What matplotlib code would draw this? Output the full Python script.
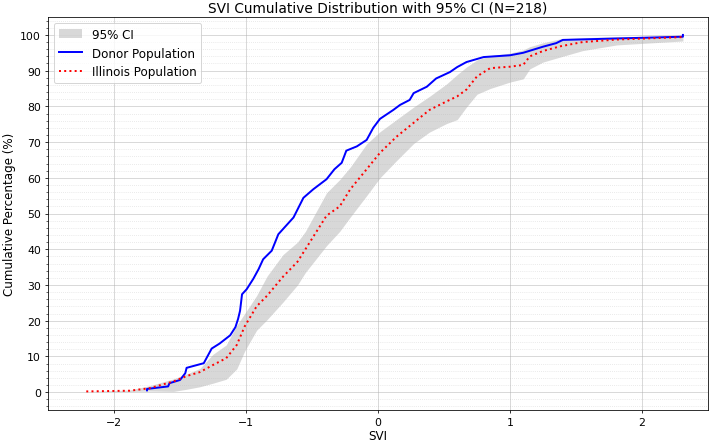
import matplotlib
matplotlib.use("Agg")
import matplotlib.pyplot as plt
from matplotlib.ticker import AutoMinorLocator

# Donor population cumulative curve
donor_svi = [-1.75, -1.75, -1.59, -1.58, -1.50, -1.46, -1.45, -1.32, -1.26, -1.20,
             -1.12, -1.08, -1.06, -1.045, -1.03, -0.995, -0.945, -0.905, -0.87, -0.805,
             -0.755, -0.64, -0.565, -0.49, -0.39, -0.33, -0.275, -0.24, -0.16, -0.086,
             -0.036, 0.015, 0.116, 0.167, 0.24, 0.27, 0.37, 0.44, 0.545, 0.60,
             0.67, 0.80, 1.00, 1.10, 1.25, 1.35, 1.40, 2.31, 2.31]
donor_pct = [0.5, 0.9, 1.6, 2.5, 3.4, 5.3, 6.8, 8.1, 12.2, 13.6,
             15.9, 18.2, 20.5, 22.8, 27.4, 28.8, 31.7, 34.4, 37.2, 39.6,
             44.2, 48.9, 54.4, 56.8, 59.6, 62.4, 64.2, 67.6, 68.8, 70.6,
             74.0, 76.5, 79.0, 80.4, 81.8, 83.7, 85.5, 87.8, 89.6, 91.0,
             92.4, 93.8, 94.3, 95.0, 96.7, 97.7, 98.6, 99.5, 100.0]

# Illinois population cumulative curve with 95% CI
il_svi = [-2.21, -1.88, -1.73, -1.55, -1.45, -1.35, -1.25, -1.15, -1.07, -1.01,
          -0.92, -0.84, -0.72, -0.61, -0.55, -0.39, -0.29, -0.21, -0.086, 0.015,
          0.14, 0.27, 0.39, 0.52, 0.60, 0.67, 0.75, 0.85, 1.00, 1.10,
          1.15, 1.25, 1.38, 1.55, 1.81, 2.31]
il_pct = [0.2, 0.4, 1.1, 3.0, 4.5, 5.6, 7.6, 9.5, 13.2, 18.4,
          24.0, 27.0, 32.3, 36.5, 40.0, 49.4, 52.0, 56.8, 62.4, 67.0,
          71.5, 75.4, 79.0, 81.4, 82.8, 84.7, 88.4, 90.7, 91.1, 91.6,
          94.0, 95.5, 96.8, 98.0, 98.7, 99.4]
ci_low = [0.2, 0.2, 0.3, 0.2, 0.8, 1.5, 2.5, 3.6, 6.5, 11.5,
          17.3, 20.3, 25.2, 30.0, 33.5, 41.0, 45.0, 49.0, 55.0, 60.0,
          64.8, 69.6, 72.8, 75.2, 76.3, 79.8, 83.4, 85.0, 86.8, 87.7,
          90.5, 92.4, 93.8, 95.6, 97.2, 98.3]
ci_high = [0.2, 0.6, 1.8, 3.7, 5.1, 6.6, 10.6, 13.2, 18.7, 22.0,
           27.0, 32.5, 38.5, 42.0, 45.0, 55.8, 59.5, 63.0, 69.5, 72.9,
           76.3, 79.8, 82.8, 86.3, 88.9, 91.0, 93.0, 94.2, 94.9, 95.8,
           96.7, 97.8, 98.9, 99.2, 99.5, 99.7]

plt.rcParams['font.size'] = 12

fig = plt.figure(figsize=(10, 6.29), dpi=70.9)
ax = fig.add_axes([0.0677, 0.0785, 0.9309, 0.8811])

ax.fill_between(il_svi, ci_low, ci_high, color='gray', alpha=0.3, linewidth=0, label='95% CI')
ax.plot(donor_svi, donor_pct, color='blue', linewidth=2, label='Donor Population')
ax.plot(il_svi, il_pct, color='red', linestyle=':', linewidth=2, label='Illinois Population')

ax.set_xlim(-2.5, 2.5)
ax.set_ylim(-5, 105)
ax.set_xticks([-2, -1, 0, 1, 2])
ax.set_yticks(range(0, 101, 10))
ax.yaxis.set_minor_locator(AutoMinorLocator())
ax.tick_params(labelsize=11)

ax.grid(True, which='major', alpha=0.6)
ax.grid(True, which='minor', axis='y', linestyle=':', alpha=0.4)

ax.set_title('SVI Cumulative Distribution with 95% CI (N=218)', fontsize=14)
ax.set_xlabel('SVI', fontsize=12, labelpad=2)
ax.set_ylabel('Cumulative Percentage (%)', fontsize=12)
ax.legend(loc='upper left', fontsize=12)

fig.savefig('out.png', dpi=70.9)
